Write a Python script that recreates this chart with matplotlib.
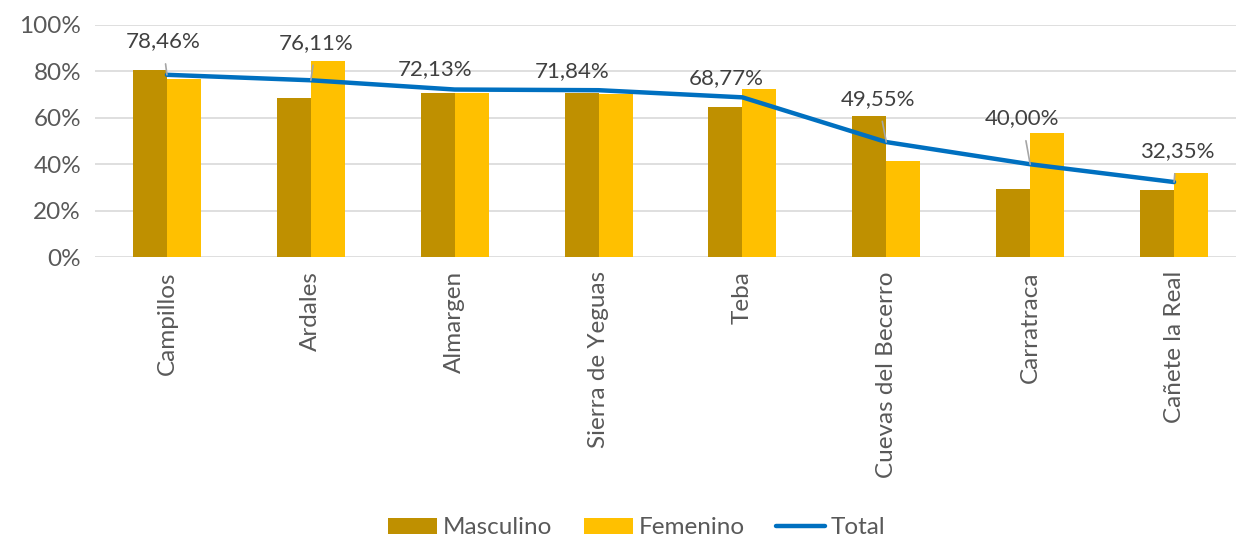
import numpy as np
import matplotlib
matplotlib.use("Agg")
from matplotlib import pyplot as plt
from matplotlib.ticker import FuncFormatter

plt.rcParams['font.family'] = ['Lato', 'DejaVu Sans']

# data
municipios = ["Campillos", "Ardales", "Almargen", "Sierra de Yeguas", "Teba",
              "Cuevas del Becerro", "Carratraca", "Cañete la Real"]
masculino = [80.4, 68.6, 70.8, 70.7, 64.7, 60.7, 29.5, 28.8]
femenino = [76.5, 84.4, 70.8, 70.0, 72.5, 41.3, 53.4, 36.2]
total = [78.46, 76.11, 72.13, 71.84, 68.77, 49.55, 40.00, 32.35]

# label offsets in points (dx, dy) from the line point
label_off = [(-3, 24), (4, 27), (-14, 15), (-19, 14), (-12, 14), (-6, 31), (-6, 33), (2, 22)]
show_leader = [True, True, False, False, False, True, True, True]

fig = plt.figure(figsize=(12.36, 5.39), dpi=100)
ax = fig.add_axes([95/1236, 1 - 257.3/539, (1236 - 95)/1236, (257.3 - 24.7)/539])

x = np.arange(len(municipios))
w = 0.236
b1 = ax.bar(x - w/2, masculino, w, color="#BF9000", label="Masculino", zorder=2)
b2 = ax.bar(x + w/2, femenino, w, color="#FFC000", label="Femenino", zorder=2)
ln, = ax.plot(x, total, color="#0070C0", lw=3.2, label="Total", zorder=3,
              solid_capstyle="round")

for i, v in enumerate(total):
    txt = "{:.2f}%".format(v).replace(".", ",")
    ap = dict(arrowstyle="-", color="#A6A6A6", lw=1.2, shrinkA=7, shrinkB=0) if show_leader[i] else None
    ax.annotate(txt, (x[i], v), xytext=label_off[i], textcoords="offset points",
                ha="center", va="center", fontsize=16, color="#404040",
                arrowprops=ap, zorder=4)

ax.set_ylim(0, 100)
ax.set_xlim(-0.5, 7.5 - 10/143.9)
ax.set_yticks(np.arange(0, 101, 20))
ax.yaxis.set_major_formatter(FuncFormatter(lambda v, p: "{:.0f}%".format(v)))
ax.set_xticks(x)
ax.set_xticklabels(municipios, rotation=90)
ax.tick_params(axis="both", length=0, labelsize=17.5, colors="#595959")
ax.tick_params(axis="x", pad=10)
ax.tick_params(axis="y", pad=10)
ax.grid(axis="y", color="#D9D9D9", lw=1.2, zorder=0)
for s in ax.spines.values():
    s.set_visible(False)

fig.legend([b1, b2, ln], ["Masculino", "Femenino", "Total"],
           loc="center", bbox_to_anchor=(637/1236, 1 - 528/539), ncol=3, frameon=False,
           fontsize=17.5, labelcolor="#595959", handlelength=2.0, handleheight=0.6,
           columnspacing=1.3, handletextpad=0.25)

fig.savefig("out.png", dpi=100)
